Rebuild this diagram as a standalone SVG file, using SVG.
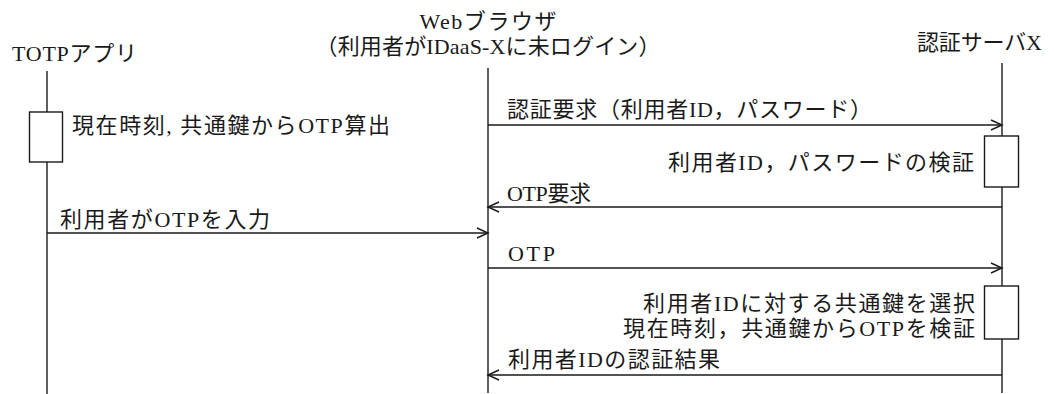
<svg xmlns="http://www.w3.org/2000/svg" width="1054" height="394" viewBox="0 0 1054 394">
<style>
text{font-family:"Liberation Serif","Noto Sans CJK JP",serif;font-size:22px;fill:#1a1a1a}
.ll{stroke:#1a1a1a;stroke-width:1.4;fill:none}
.act{stroke:#1a1a1a;stroke-width:1.4;fill:#fff}
.msg{stroke:#1a1a1a;stroke-width:1.4;fill:none;marker-end:url(#ah)}
.e{text-anchor:end}
.m{text-anchor:middle}
</style>
<defs>
<marker id="ah" markerUnits="userSpaceOnUse" markerWidth="14" markerHeight="12" refX="12" refY="6" orient="auto">
<path d="M1,1 L12,6 L1,11" fill="none" stroke="#1a1a1a" stroke-width="1.4"/>
</marker>
</defs>
<g id="totp">
<text x="12" y="61" textLength="125" lengthAdjust="spacing">TOTPアプリ</text>
<line class="ll" x1="47" y1="71" x2="47" y2="394"/>
<rect class="act" x="29.5" y="112" width="33" height="50"/>
<text x="72" y="133" textLength="318" lengthAdjust="spacing">現在時刻, 共通鍵からOTP算出</text>
</g>
<g id="browser">
<text class="m" x="488" y="29" textLength="137" lengthAdjust="spacing">Webブラウザ</text>
<text class="m" x="488" y="54" textLength="345" lengthAdjust="spacing">（利用者がIDaaS-Xに未ログイン）</text>
<line class="ll" x1="488" y1="68" x2="488" y2="393"/>
</g>
<g id="server">
<text x="917" y="50" textLength="125" lengthAdjust="spacing">認証サーバX</text>
<line class="ll" x1="1002" y1="63" x2="1002" y2="393"/>
<rect class="act" x="984.5" y="136" width="34" height="51"/>
<text class="e" x="974" y="170" textLength="306" lengthAdjust="spacing">利用者ID，パスワードの検証</text>
<rect class="act" x="984.5" y="286" width="34" height="53"/>
<text class="e" x="975" y="311" textLength="332" lengthAdjust="spacing">利用者IDに対する共通鍵を選択</text>
<text class="e" x="975" y="336" textLength="352" lengthAdjust="spacing">現在時刻，共通鍵からOTPを検証</text>
</g>
<g id="connectors">
<line class="msg" x1="488" y1="125" x2="1002" y2="125"/>
<text x="507" y="117" textLength="365" lengthAdjust="spacing">認証要求（利用者ID，パスワード）</text>
<line class="msg" x1="1002" y1="207" x2="488" y2="207"/>
<text x="507" y="201" textLength="84" lengthAdjust="spacing">OTP要求</text>
<line class="msg" x1="47" y1="233" x2="488" y2="233"/>
<text x="60" y="227" textLength="210" lengthAdjust="spacing">利用者がOTPを入力</text>
<line class="msg" x1="488" y1="268" x2="1002" y2="268"/>
<text x="508" y="261" textLength="47" lengthAdjust="spacing">OTP</text>
<line class="msg" x1="1002" y1="375" x2="488" y2="375"/>
<text x="508" y="367" textLength="212" lengthAdjust="spacing">利用者IDの認証結果</text>
</g>
</svg>
